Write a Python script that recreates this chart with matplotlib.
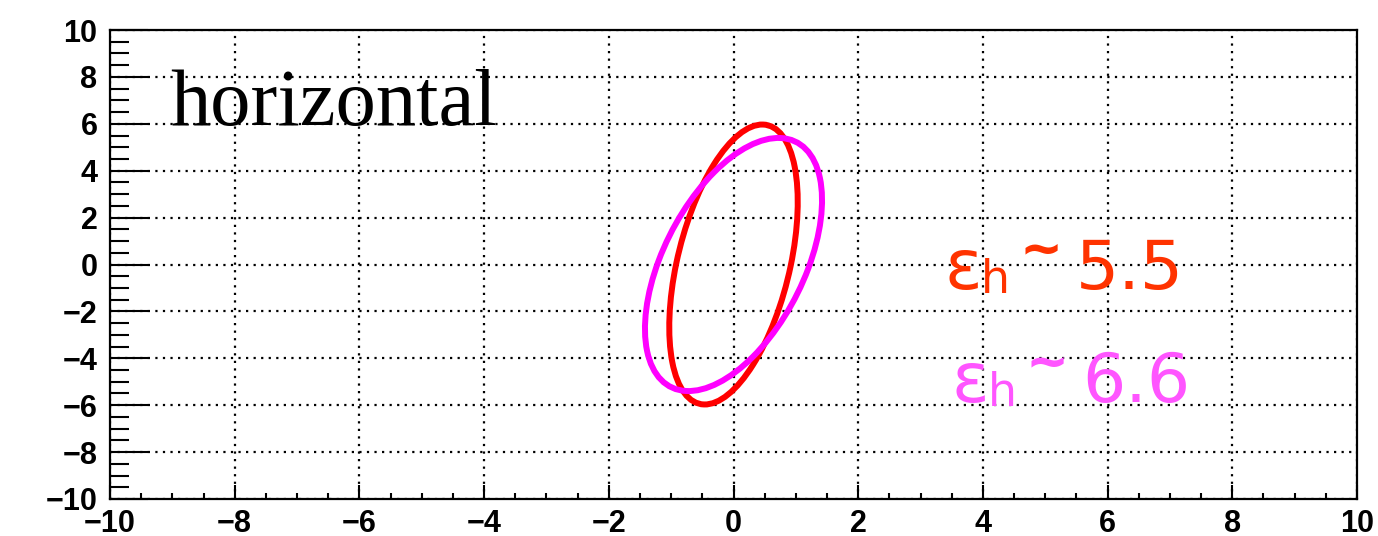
import numpy as np
import matplotlib
matplotlib.use("Agg")
import matplotlib.pyplot as plt
from matplotlib.patches import Ellipse
from matplotlib.ticker import MultipleLocator

# Phase-space ellipses described by Twiss parameters (emittance, beta, alpha)
labels = ["5.5", "6.6"]
emittance = [5.5, 6.6]
beta = [0.193, 0.3055]
alpha = [-0.50, -0.59]
line_colors = ["#ff0000", "#ff00ff"]
text_colors = ["#ff3300", "#ff55ff"]

x_ticks = [-10, -8, -6, -4, -2, 0, 2, 4, 6, 8, 10]
y_ticks = [-10, -8, -6, -4, -2, 0, 2, 4, 6, 8, 10]

fig = plt.figure(figsize=(13.78, 5.36), dpi=100)
ax = fig.add_axes([110 / 1378, 37 / 536, 1247 / 1378, 469 / 536])
ax.set_xlim(-10, 10)
ax.set_ylim(-10, 10)

for eps, b, a, col in zip(emittance, beta, alpha, line_colors):
    g = (1 + a * a) / b
    sigma = eps * np.array([[b, -a], [-a, g]])
    vals, vecs = np.linalg.eigh(sigma)
    ang = np.degrees(np.arctan2(vecs[1, 1], vecs[0, 1]))
    ell = Ellipse((0, 0), width=2 * np.sqrt(vals[1]), height=2 * np.sqrt(vals[0]),
                  angle=ang, fill=False, edgecolor=col, linewidth=4.3, zorder=3)
    ax.add_patch(ell)

# Axis styling
ax.set_xticks(x_ticks)
ax.set_yticks(y_ticks)
ax.xaxis.set_minor_locator(MultipleLocator(0.5))
ax.yaxis.set_minor_locator(MultipleLocator(0.5))
tick_font = dict(family="Liberation Sans", weight="bold", size=22)
ax.set_xticklabels([f"\u2212{abs(v)}" if v < 0 else str(v) for v in x_ticks], fontdict=tick_font)
ax.set_yticklabels([f"\u2212{abs(v)}" if v < 0 else str(v) for v in y_ticks], fontdict=tick_font)
ax.tick_params(axis="x", which="major", direction="in", length=10, width=1.5, pad=7,
               top=False)
ax.tick_params(axis="x", which="minor", direction="in", length=4.3, width=1.5, top=False)
ax.tick_params(axis="y", which="major", direction="in", length=27, width=1.5, pad=9,
               right=False)
ax.tick_params(axis="y", which="minor", direction="in", length=13.7, width=1.5, right=False)
for s in ax.spines.values():
    s.set_linewidth(1.6)
    s.set_color("black")

ax.grid(True, which="major", color="black", linestyle=(0, (1, 2.4)), linewidth=1.6)
ax.set_axisbelow(True)

ax.text(-9.04, 5.95, "horizontal", family="Liberation Serif", fontsize=58,
        ha="left", va="baseline", color="black", zorder=4)

# Emittance annotations
anchors = [(3.39, -1.04), (3.50, -5.86)]
for (x0, y0), lab, col in zip(anchors, labels, text_colors):
    kw = dict(xy=(x0, y0), xycoords="data", textcoords="offset points",
              family="DejaVu Sans", color=col, zorder=4)
    ax.annotate("\u03b5", xytext=(0, 0), fontsize=50, ha="left", va="baseline", **kw)
    ax.annotate("h", xytext=(26, -2.9), fontsize=33, ha="left", va="baseline", **kw)
    ax.annotate("~", xytext=(69, 27), fontsize=37, fontweight="bold",
                ha="center", va="center", **kw)
    ax.annotate(lab, xytext=(94, 0), fontsize=49, ha="left", va="baseline", **kw)

fig.savefig("out.png", dpi=100)
